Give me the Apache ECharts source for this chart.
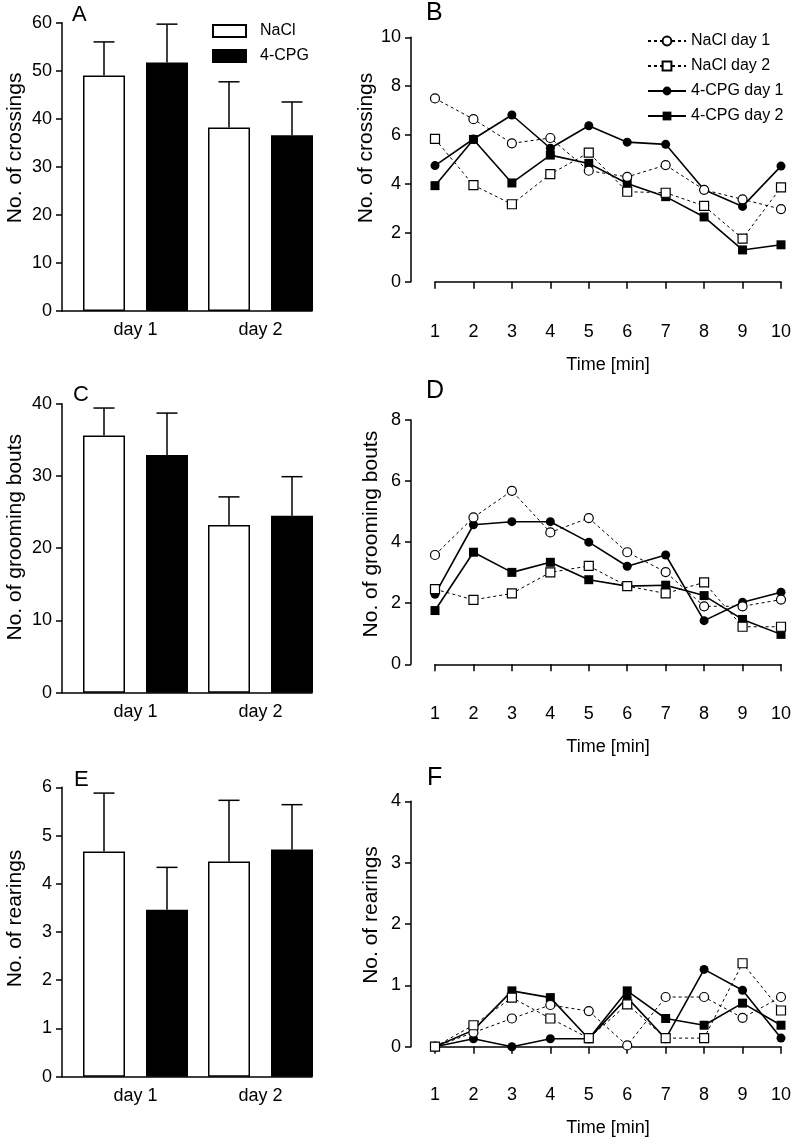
<!DOCTYPE html>
<html><head><meta charset="utf-8">
<script src="https://cdn.jsdelivr.net/npm/echarts@6.0.0/dist/echarts.min.js"></script>
<style>html,body{margin:0;padding:0;background:#fff}#c{width:800px;height:1144px}</style>
</head><body><div id="c"></div>
<script>
// ---------- data ----------
const days = ['day 1', 'day 2'];
const minutes = [1, 2, 3, 4, 5, 6, 7, 8, 9, 10];
const barNames = ['NaCl', '4-CPG'];
const lineNames = ['NaCl day 1', 'NaCl day 2', '4-CPG day 1', '4-CPG day 2'];

// A: crossings (mean, SEM)
const crossingsNaCl = [49.0, 38.2];
const crossingsNaClSem = [7.0, 9.5];
const crossingsCPG = [51.7, 36.6];
const crossingsCPGSem = [8.0, 6.9];
// C: grooming bouts
const groomingNaCl = [35.6, 23.2];
const groomingNaClSem = [3.8, 3.9];
const groomingCPG = [32.9, 24.5];
const groomingCPGSem = [5.8, 5.4];
// E: rearings
const rearingsNaCl = [4.67, 4.46];
const rearingsNaClSem = [1.21, 1.27];
const rearingsCPG = [3.46, 4.71];
const rearingsCPGSem = [0.88, 0.93];

// B: crossings per minute
const crossNaCl1 = [7.50, 6.65, 5.66, 5.88, 4.54, 4.29, 4.77, 3.76, 3.37, 2.97];
const crossNaCl2 = [5.84, 3.95, 3.17, 4.40, 5.28, 3.68, 3.64, 3.10, 1.76, 3.86];
const crossCPG1 = [4.75, 5.84, 6.82, 5.46, 6.38, 5.71, 5.62, 3.76, 3.08, 4.73];
const crossCPG2 = [3.93, 5.82, 4.04, 5.18, 4.84, 4.02, 3.48, 2.65, 1.30, 1.51];
// D: grooming bouts per minute
const groomNaCl1 = [3.58, 4.81, 5.68, 4.32, 4.79, 3.67, 3.02, 1.90, 1.90, 2.12];
const groomNaCl2 = [2.46, 2.11, 2.32, 3.01, 3.22, 2.56, 2.32, 2.68, 1.23, 1.23];
const groomCPG1 = [2.29, 4.57, 4.67, 4.67, 4.00, 3.21, 3.58, 1.43, 2.03, 2.36];
const groomCPG2 = [1.76, 3.67, 3.01, 3.34, 2.77, 2.56, 2.59, 2.25, 1.47, 0.98];
// F: rearings per minute
const rearNaCl1 = [0.00, 0.23, 0.46, 0.68, 0.58, 0.02, 0.81, 0.81, 0.47, 0.81];
const rearNaCl2 = [0.00, 0.35, 0.80, 0.46, 0.14, 0.69, 0.14, 0.14, 1.36, 0.59];
const rearCPG1 = [0.00, 0.13, 0.00, 0.13, 0.13, 0.80, 0.13, 1.26, 0.92, 0.14];
const rearCPG2 = [0.00, 0.27, 0.91, 0.80, 0.13, 0.91, 0.46, 0.35, 0.71, 0.35];

// axis tick settings
const barYAxes = [{max: 60, interval: 10}, {max: 40, interval: 10}, {max: 6, interval: 1}];
const lineYAxes = [{max: 10, interval: 2}, {max: 8, interval: 2}, {max: 4, interval: 1}];
const yNames = ['No. of crossings', 'No. of crossings', 'No. of grooming bouts', 'No. of grooming bouts', 'No. of rearings', 'No. of rearings'];
const panelLetters = ['A', 'B', 'C', 'D', 'E', 'F'];

// ---------- layout / style ----------
const FONT = 'Liberation Sans, Arial, Helvetica, sans-serif';
const barGrids = [
  {top: 22.7, height: 288.3},
  {top: 403.7, height: 289},
  {top: 787.3, height: 289.4}
];
const lineGrids = [
  {top: 37.3, height: 244.4, xOff: 28},
  {top: 420, height: 244.3, xOff: 28},
  {top: 801.3, height: 245.4, xOff: 26}
];
const yNamePad = [38, 23, 22, 16, 27, 18];
const axisLine = {show: true, lineStyle: {color: '#000', width: 1.5}};

const grid = [], xAxis = [], yAxis = [], series = [];

function errRender(shift) {
  return function (params, api) {
    const idx = api.value(0), m = api.value(1), s = api.value(2);
    const band = api.size([1, 0])[0];
    const p0 = api.coord([idx, m]);
    const p1 = api.coord([idx, m + s]);
    const x = p0[0] + shift * band;
    const h = band * 0.084;
    return {type: 'group', children: [
      {type: 'line', shape: {x1: x, y1: p0[1], x2: x, y2: p1[1]}, style: {stroke: '#000', lineWidth: 1.5}},
      {type: 'line', shape: {x1: x - h, y1: p1[1], x2: x + h, y2: p1[1]}, style: {stroke: '#000', lineWidth: 1.5}}
    ]};
  };
}

const barData = [
  [crossingsNaCl, crossingsNaClSem, crossingsCPG, crossingsCPGSem],
  [groomingNaCl, groomingNaClSem, groomingCPG, groomingCPGSem],
  [rearingsNaCl, rearingsNaClSem, rearingsCPG, rearingsCPGSem]
];
const lineData = [
  [crossNaCl1, crossNaCl2, crossCPG1, crossCPG2],
  [groomNaCl1, groomNaCl2, groomCPG1, groomCPG2],
  [rearNaCl1, rearNaCl2, rearCPG1, rearCPG2]
];

for (let r = 0; r < 3; r++) {
  // bar panel
  const gb = grid.length;
  grid.push({left: 73, width: 250, top: barGrids[r].top, height: barGrids[r].height});
  xAxis.push({type: 'category', gridIndex: gb, data: days,
    axisLine: {show: false}, axisTick: {show: false},
    axisLabel: {color: '#000', fontSize: 18, fontFamily: FONT, margin: 10}});
  yAxis.push({type: 'value', gridIndex: gb, min: 0, max: barYAxes[r].max, interval: barYAxes[r].interval,
    offset: 11, axisLine: axisLine, axisTick: {show: true, length: 6, lineStyle: {color: '#000', width: 1.5}},
    splitLine: {show: false},
    axisLabel: {color: '#000', fontSize: 18, fontFamily: FONT, margin: 10},
    name: yNames[r * 2], nameLocation: 'middle', nameGap: 36, nameRotate: 90,
    nameTextStyle: {color: '#000', fontSize: 21, fontFamily: FONT, padding: [0, 0, 0, yNamePad[r * 2]]}});
  const [m1, s1, m2, s2] = barData[r];
  series.push({type: 'bar', name: barNames[0], xAxisIndex: gb, yAxisIndex: gb, data: m1,
    barWidth: '33.6%', barGap: '50%',
    itemStyle: {color: '#fff', borderColor: '#000', borderWidth: 1.5}});
  series.push({type: 'bar', name: barNames[1], xAxisIndex: gb, yAxisIndex: gb, data: m2,
    barWidth: '33.6%', barGap: '50%',
    itemStyle: {color: '#000', borderColor: '#000', borderWidth: 1.5}});
  series.push({type: 'custom', xAxisIndex: gb, yAxisIndex: gb, z: 5, renderItem: errRender(-0.252),
    data: days.map((d, i) => [i, m1[i], s1[i]])});
  series.push({type: 'custom', xAxisIndex: gb, yAxisIndex: gb, z: 5, renderItem: errRender(0.252),
    data: days.map((d, i) => [i, m2[i], s2[i]])});

  // line panel
  const gl = grid.length;
  grid.push({left: 435, width: 346, top: lineGrids[r].top, height: lineGrids[r].height});
  xAxis.push({type: 'value', gridIndex: gl, min: 1, max: 10, interval: 1, offset: lineGrids[r].xOff,
    axisLine: axisLine, axisTick: {show: true, length: 7, lineStyle: {color: '#000', width: 1.5}},
    splitLine: {show: false},
    axisLabel: {color: '#000', fontSize: 18, fontFamily: FONT, margin: 13},
    name: 'Time [min]', nameLocation: 'middle', nameGap: 46,
    nameTextStyle: {color: '#000', fontSize: 18, fontFamily: FONT}});
  yAxis.push({type: 'value', gridIndex: gl, min: 0, max: lineYAxes[r].max, interval: lineYAxes[r].interval,
    offset: 24, axisLine: axisLine, axisTick: {show: true, length: 6, lineStyle: {color: '#000', width: 1.5}},
    splitLine: {show: false},
    axisLabel: {color: '#000', fontSize: 18, fontFamily: FONT, margin: 10},
    name: yNames[r * 2 + 1], nameLocation: 'middle', nameGap: 29, nameRotate: 90,
    nameTextStyle: {color: '#000', fontSize: 21, fontFamily: FONT, padding: [0, 0, 0, yNamePad[r * 2 + 1]]}});
  lineNames.forEach((name, k) => {
    const arr = lineData[r][k];
    const open = k < 2;
    series.push({type: 'line', name, xAxisIndex: gl, yAxisIndex: gl,
      data: minutes.map((m, i) => [m, arr[i]]),
      symbol: k % 2 === 0 ? 'circle' : 'rect', symbolSize: 9,
      lineStyle: {color: '#000', width: open ? 1 : 1.6, type: open ? [3, 3] : 'solid'},
      itemStyle: {color: open ? '#fff' : '#000', borderColor: '#000', borderWidth: open ? 1.2 : 0},
      z: open ? 3 : 2});
  });
}

// helper grids that carry only the x-axis baseline of each bar panel
for (let r = 0; r < 3; r++) {
  const gh = grid.length;
  grid.push({left: 62, width: 250, top: barGrids[r].top, height: barGrids[r].height});
  xAxis.push({type: 'value', gridIndex: gh, min: 0, max: 1, axisLine: axisLine,
    axisTick: {show: false}, axisLabel: {show: false}, splitLine: {show: false}});
  yAxis.push({type: 'value', gridIndex: gh, show: false, min: 0, max: 1});
}

const titlePos = [
  {left: 72, top: 4, size: 22}, {left: 426, top: 1, size: 25},
  {left: 73, top: 384, size: 22}, {left: 426, top: 379, size: 25},
  {left: 74, top: 769, size: 22}, {left: 427, top: 766, size: 25}
];

const option = {
  animation: false,
  backgroundColor: '#fff',
  title: panelLetters.map((t, i) => ({text: t, left: titlePos[i].left, top: titlePos[i].top, padding: 0,
    textStyle: {color: '#000', fontSize: titlePos[i].size, fontWeight: 'normal', fontFamily: FONT}})),
  legend: [
    {data: barNames, orient: 'vertical', left: 212, top: 23, icon: 'rect', itemWidth: 33, itemHeight: 12,
      itemGap: 9, padding: 0, selectedMode: false,
      textStyle: {color: '#000', fontSize: 16, fontFamily: FONT, padding: [0, 0, 0, 9]}},
    {data: lineNames, orient: 'vertical', left: 647, top: 33, itemWidth: 38, itemHeight: 11,
      itemGap: 9, padding: 0, selectedMode: false,
      textStyle: {color: '#000', fontSize: 16, fontFamily: FONT}}
  ],
  grid, xAxis, yAxis, series
};

echarts.init(document.getElementById('c'), null, {renderer: 'canvas'}).setOption(option);
</script>
</body></html>
